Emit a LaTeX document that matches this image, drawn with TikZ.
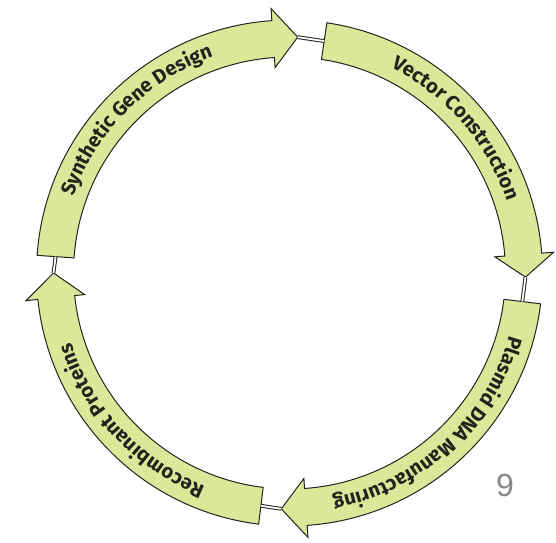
\documentclass[tikz,border=0pt]{standalone}
\usepackage{fontspec}
\newfontfamily\firalbl{Fira Sans}
\newfontfamily\digitfont{Liberation Sans}
\usetikzlibrary{decorations.text}
\definecolor{arrowfill}{RGB}{221,231,153}
\definecolor{edgecol}{RGB}{35,35,30}
\definecolor{numgray}{RGB}{135,135,135}
\newcommand\lblfont{\firalbl\bfseries\fontsize{20}{23}\selectfont}
% #1 name, #2 start angle, #3 tip angle, #4 head-back angle
\newcommand\cyclearrow[4]{%
  \draw[arrowshape] (#2:253) arc[start angle=#2, end angle=#4, radius=253]
    -- (#4:265) -- (#3:236) -- (#4:206) -- (#4:216)
    arc[start angle=#4, end angle=#2, radius=216] -- cycle;
  \coordinate (#1-start) at (#2:234.5);
  \coordinate (#1-tip) at (#3:236);
}
% #1 centre angle, #2 text
\newcommand\cyclelabel[2]{%
  \path[decorate, decoration={text along path, text align=center,
    text color=edgecol, text={|\lblfont|#2}}]
    ({#1+45}:229) arc[start angle={#1+45}, end angle={#1-45}, radius=229];
}
\begin{document}
\begin{tikzpicture}[x=1pt,y=1pt,
  arrowshape/.style={fill=arrowfill, draw=edgecol, line width=1pt, line join=miter},
  link/.style={draw=edgecol, line width=1pt, double=white, double distance=1.8pt}]
\useasboundingbox (0,0) rectangle (556,542);
\begin{scope}[shift={(289.5,269)}]
  \cyclearrow{syn}{176}{88}{94}
  \cyclearrow{vec}{81.5}{-1}{4.5}
  \cyclearrow{pla}{-7}{-92}{-86}
  \cyclearrow{rec}{-97}{-180}{-174}
  \draw[link] (syn-tip) -- (vec-start);
  \draw[link] (vec-tip) -- (pla-start);
  \draw[link] (pla-tip) -- (rec-start);
  \draw[link] (rec-tip) -- (syn-start);
  \cyclelabel{135}{Synthetic Gene Design}
  \cyclelabel{41}{Vector Construction}
  \cyclelabel{-47.5}{Plasmid DNA Manufacturing}
  \cyclelabel{-137}{Recombinant Proteins}
\end{scope}
\node[text=numgray, font=\digitfont\fontsize{32}{36}\selectfont] (pagenum) at (505,57) {9};
\end{tikzpicture}
\end{document}
